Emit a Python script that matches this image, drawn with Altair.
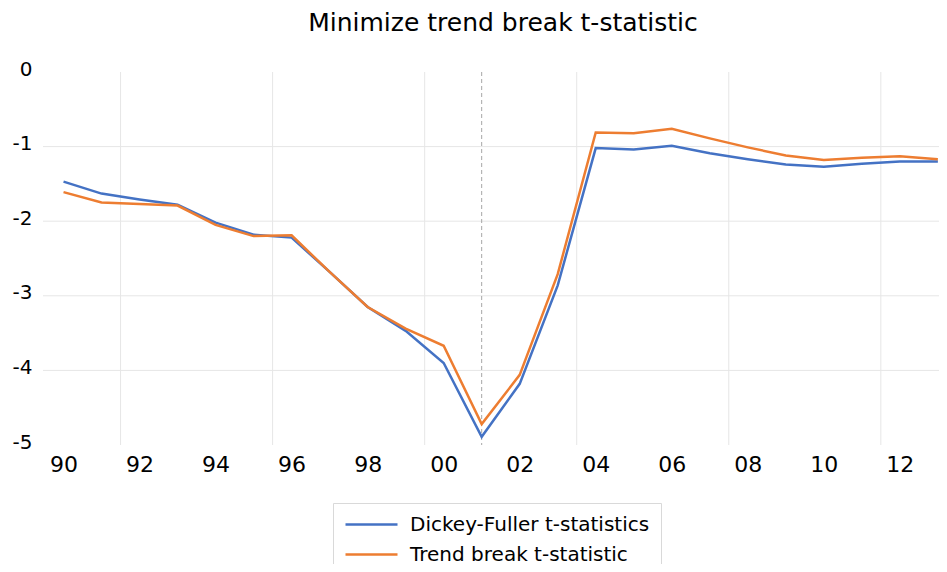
import altair as alt
import pandas as pd

years = list(range(1990, 2014))
df_stat = [-1.47, -1.63, -1.71, -1.78, -2.02, -2.18, -2.22, -2.68, -3.15, -3.47,
           -3.90, -4.89, -4.18, -2.86, -1.02, -1.04, -0.99, -1.09, -1.17, -1.24,
           -1.27, -1.23, -1.20, -1.20]
tb_stat = [-1.61, -1.75, -1.77, -1.79, -2.05, -2.20, -2.19, -2.68, -3.15, -3.44,
           -3.67, -4.72, -4.06, -2.71, -0.81, -0.82, -0.76, -0.89, -1.01, -1.12,
           -1.18, -1.15, -1.13, -1.17]
series_names = ["Dickey-Fuller t-statistics", "Trend break t-statistic"]
series_colors = ["#4472C4", "#ED7D31"]
x_ticks = list(range(1990, 2013, 2))
y_ticks = [0, -1, -2, -3, -4, -5]
x_grid = [1991.5, 1995.5, 1999.5, 2003.5, 2007.5, 2011.5]
y_grid = [-1, -2, -3, -4]
break_year = [2001]

rows = []
for y, a, b in zip(years, df_stat, tb_stat):
    rows.append({"year": y, "value": a, "series": series_names[0]})
    rows.append({"year": y, "value": b, "series": series_names[1]})
data = pd.DataFrame(rows)

FONT = "DejaVu Sans"
xscale = alt.Scale(domain=[1989.46, 2013.03], nice=False, zero=False)
yscale = alt.Scale(domain=[-5, 0], nice=False)

xaxis = alt.Axis(values=x_ticks, format="d", labelExpr="slice(datum.label, 2)",
                 title=None, grid=False, domain=False, ticks=False,
                 labelPadding=9, labelFontSize=22, labelFont=FONT,
                 labelColor="#000000")
yaxis = alt.Axis(values=y_ticks, title=None, grid=False, domain=False,
                 ticks=False, labelPadding=11, labelFontSize=20,
                 labelExpr="toString(datum.value)",
                 labelFont=FONT, labelColor="#000000", labelOffset=-3)

vgrid = alt.Chart(pd.DataFrame({"x": x_grid})).mark_rule(
    color="#e6e6e6", strokeWidth=1
).encode(x=alt.X("x:Q", scale=xscale, axis=xaxis))

hgrid = alt.Chart(pd.DataFrame({"y": y_grid})).mark_rule(
    color="#e6e6e6", strokeWidth=1
).encode(y=alt.Y("y:Q", scale=yscale, axis=yaxis))

brk = alt.Chart(pd.DataFrame({"x": break_year})).mark_rule(
    color="#a6a6a6", strokeWidth=1, strokeDash=[4, 3]
).encode(x=alt.X("x:Q", scale=xscale, axis=xaxis))

lines = alt.Chart(data).mark_line(strokeWidth=2.5).encode(
    x=alt.X("year:Q", scale=xscale, axis=xaxis),
    y=alt.Y("value:Q", scale=yscale, axis=yaxis),
    color=alt.Color("series:N",
                    scale=alt.Scale(domain=series_names, range=series_colors),
                    legend=alt.Legend(title=None, orient="none", legendX=290, legendY=431,
                                      symbolType="stroke", symbolSize=2704,
                                      symbolStrokeWidth=2.5, labelFontSize=20,
                                      labelFont=FONT, labelColor="#000000",
                                      labelOffset=11, rowPadding=9, padding=11,
                                      clipHeight=21,
                                      strokeColor="#d9d9d9", fillColor="white",
                                      labelLimit=400)),
    order="year:Q",
)

chart = alt.layer(vgrid, hgrid, brk, lines).properties(
    width=896, height=373,
    title=alt.TitleParams("Minimize trend break t-statistic", font=FONT, fontSize=25,
                          fontWeight="normal", color="#000000", anchor="middle",
                          dx=12, offset=23),
    autosize=alt.AutoSizeParams(type="none"),
    padding={"left": 35, "top": 64, "right": 0, "bottom": 119},
).configure_view(stroke=None)

chart.save("out.html", embed_options={"renderer": "svg", "actions": False})
